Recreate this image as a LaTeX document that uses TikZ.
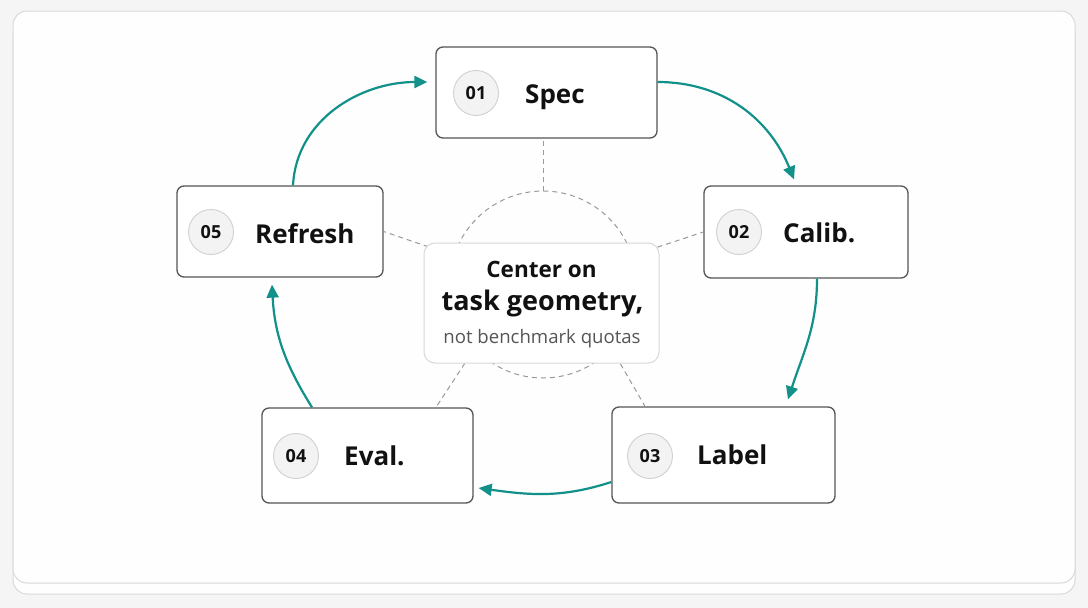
\documentclass[tikz,border=0pt]{standalone}
\usepackage{fontspec}
\setmainfont{Open Sans}
\usetikzlibrary{arrows.meta,calc}
\definecolor{bg}{HTML}{F5F5F5}
\definecolor{cardfill}{HTML}{FEFEFE}
\definecolor{cardline}{HTML}{D9D9D9}
\definecolor{boxline}{HTML}{555555}
\definecolor{hubline}{HTML}{D8D8D8}
\definecolor{numfill}{HTML}{F3F3F3}
\definecolor{numline}{HTML}{D0D0D0}
\definecolor{teal}{HTML}{12908A}
\definecolor{dashc}{HTML}{9A9A9A}
\definecolor{ink}{HTML}{111111}
\definecolor{subink}{HTML}{555555}
\tikzset{
  stagebox/.style={draw=boxline, line width=1.3pt, fill=white, rounded corners=7pt, inner sep=0pt},
  hubbox/.style={draw=hubline, line width=1pt, fill=white, rounded corners=11pt, inner sep=0pt, minimum width=235, minimum height=120},
  numcirc/.style={circle, draw=numline, line width=0.9pt, fill=numfill, minimum size=45, inner sep=0pt, text=ink, font=\bfseries\fontsize{18}{21}\selectfont},
  stagetitle/.style={anchor=base west, inner sep=0pt, text=ink, font=\bfseries\fontsize{26}{30}\selectfont},
  flow/.style={draw=teal, line width=2.2pt, -{Triangle[length=13pt,width=12pt]}},
  spoke/.style={draw=dashc, line width=1pt, dash pattern=on 5pt off 4pt},
}
\begin{document}
\begin{tikzpicture}[x=1pt,y=-1pt]
\useasboundingbox (0,0) rectangle (1088,608);
\fill[bg] (0,0) rectangle (1088,608);
% stacked cards
\draw[cardline, fill=cardfill, line width=1pt, rounded corners=14pt] (13,22) rectangle (1075,594);
\draw[cardline, fill=cardfill, line width=1pt, rounded corners=14pt] (13,11) rectangle (1075,583);

% hub
\coordinate (c) at (543,284.5);
\draw[spoke] (c) circle[radius=93.5];

% stage boxes
\node[stagebox, minimum width=221, minimum height=91] (spec) at (546.5,92.5) {};
\node[stagebox, minimum width=204, minimum height=92] (calib) at (806,232) {};
\node[stagebox, minimum width=223, minimum height=96] (label) at (723.5,455) {};
\node[stagebox, minimum width=211, minimum height=95] (eval) at (367.5,455.5) {};
\node[stagebox, minimum width=206, minimum height=91] (refresh) at (280,231.5) {};

% spokes (angles mirrored because y points down)
\draw[spoke] ($(c)+(-90:93.5)$) coordinate (s1) -- (s1 |- spec.south);
\draw[spoke] ($(c)+(-18:93.5)$) -- (calib.west);
\draw[spoke] ($(c)+(-162:93.5)$) -- (refresh.east);
\draw[spoke] ($(c)+(137:93.5)$) -- ($(eval.north)+(68.5,0)$);
\draw[spoke] ($(c)+(43:93.5)$) -- ($(label.north)+(-78.5,0)$);

\node[hubbox] (hub) at (541.5,303) {};
\node[anchor=base, inner sep=0pt, text=ink, font=\bfseries\fontsize{22.5}{26}\selectfont] (h1) at (541.5,277) {Center on};
\node[anchor=base, inner sep=0pt, text=ink, font=\bfseries\fontsize{27}{30}\selectfont] (h2) at (542.5,310) {task geometry,};
\node[anchor=base, inner sep=0pt, text=subink, font=\fontsize{18.6}{22}\selectfont] (h3) at (542,343) {not benchmark quotas};

% numbers and titles
\node[numcirc] (n1) at (476,93) {01};
\node[stagetitle] (t1) at (525,103) {Spec};
\node[numcirc] (n2) at (739,232) {02};
\node[stagetitle] (t2) at (783,242) {Calib.};
\node[numcirc] (n3) at (650,456) {03};
\node[stagetitle] (t3) at (697,464) {Label};
\node[numcirc] (n4) at (296,456) {04};
\node[stagetitle] (t4) at (344,465) {Eval.};
\node[numcirc] (n5) at (211,232) {05};
\node[stagetitle] (t5) at (255,243) {Refresh};

% flow arrows
\draw[flow] ($(refresh.north)+(13,0)$) to[out=87,in=180] ($(spec.west)+(-8,-10.5)$);
\draw[flow] ($(spec.east)+(0,-10.5)$) to[out=0,in=112] ($(calib.north)+(-12,-6)$);
\draw[flow] ($(calib.south)+(11,0)$) to[out=-90,in=72] ($(label.north)+(64.5,-7)$);
\draw[flow] ($(label.west)+(0,27)$) to[out=198,in=-8] ($(eval.east)+(5,32.5)$);
\draw[flow] ($(eval.north)+(-55.5,0)$) to[out=122,in=-87] ($(refresh.south)+(-8,7)$);
\end{tikzpicture}
\end{document}
